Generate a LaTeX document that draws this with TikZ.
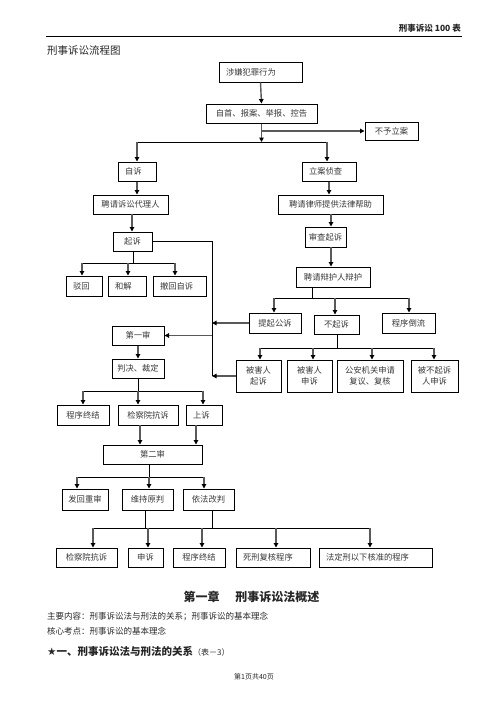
\documentclass[tikz,border=0pt]{standalone}
\usepackage{fontspec}
\setmainfont{Noto Sans CJK SC}
\newfontfamily\symf{DejaVu Sans}
\usetikzlibrary{arrows.meta}
\newcommand\mybox[7][]{%
  \node[box,#1,minimum width={#5pt-#3pt},minimum height={#6pt-#4pt}] (#2) at ({(#3+#5)/2},{(#4+#6)/2}) {#7};}
\newcommand\lbox[7][]{%
  \pgfmathsetlengthmacro\tw{#5pt-#3pt-14pt}%
  \node[box,#1,text width=\tw,align=left,inner xsep=7pt,minimum width={#5pt-#3pt},minimum height={#6pt-#4pt}] (#2) at ({(#3+#5)/2},{(#4+#6)/2}) {#7};}
\begin{document}
\begin{tikzpicture}[x=1pt,y=-1pt,
  box/.style={draw=black, line width=1pt, font=\fontsize{8.3}{11}\selectfont, text=black!78, inner sep=0pt, align=center},
  arr/.style={draw=black!65, line width=1.4pt, -{Triangle[length=4.5pt,width=4.5pt,color=black]}},
  ln/.style={draw=black, line width=0.9pt},
  txt/.style={inner sep=0pt, text=black!85}]
\useasboundingbox (0,0) rectangle (496,702);
% header
\node[txt, anchor=base east, font=\fontsize{8.5}{10}\selectfont\bfseries] (hdr) at (461,31) {刑事诉讼 100 表};
\coordinate (r1) at (46,36); \coordinate (r2) at (462,36);
\draw[line width=0.9pt] (r1) -- (r2);
\node[txt, anchor=base west, font=\fontsize{10.5}{12}\selectfont] (title) at (47,54) {刑事诉讼流程图};
% boxes
\lbox{b1}{219}{62}{302}{82}{涉嫌犯罪行为}
\mybox{b2}{206}{104}{317}{123}{自首、报案、举报、控告}
\mybox{b3}{365}{122}{418}{140}{不予立案}
\lbox{b4}{118}{162}{156}{181}{自诉}
\lbox{b5}{302}{162}{356}{181}{立案侦查}
\mybox{b6}{93}{195}{168}{214}{聘请诉讼代理人}
\mybox{b7}{278}{195}{383}{214}{聘请律师提供法律帮助}
\mybox{b8}{113}{232}{152}{251}{起诉}
\mybox{b9}{305}{227}{346}{247}{审查起诉}
\mybox{b10}{296}{267}{370}{287}{聘请辩护人辩护}
\lbox{b11}{66}{276}{102}{296}{驳回}
\lbox{b12}{108}{276}{146}{296}{和解}
\lbox{b13}{153}{276}{206}{296}{撤回自诉}
\mybox{b14}{249}{313}{301}{333}{提起公诉}
\mybox{b15}{314}{315}{359}{334}{不起诉}
\mybox{b16}{382}{313}{435}{333}{程序倒流}
\mybox{b17}{112}{326}{164}{345}{第一审}
\mybox{b18}{236}{360}{281}{392}{被害人\\起诉}
\mybox{b19}{287}{360}{332}{392}{被害人\\申诉}
\mybox{b20}{337}{360}{403}{392}{公安机关申请\\复议、复核}
\mybox{b21}{411}{360}{458}{392}{被不起诉\\人申诉}
\mybox{b22}{112}{359}{164}{378}{判决、裁定}
\mybox{b23}{57}{405}{109}{425}{程序终结}
\mybox{b24}{118}{405}{178}{425}{检察院抗诉}
\lbox{b25}{186}{405}{222}{425}{上诉}
\mybox{b26}{103}{445}{202}{464}{第二审}
\mybox{b27}{62}{489}{108}{510}{发回重审}
\mybox{b28}{122}{489}{173}{510}{维持原判}
\mybox{b29}{183}{489}{234}{510}{依法改判}
\mybox{b30}{56}{548}{117}{567}{检察院抗诉}
\mybox{b31}{128}{548}{163}{567}{申诉}
\mybox{b32}{173}{548}{225}{567}{程序终结}
\lbox{b33}{236}{548}{310}{567}{死刑复核程序}
\lbox{b34}{319}{548}{432}{567}{法定刑以下核准的程序}
% connectors
\draw[arr] (b1.south) -- (b2.north);
\coordinate (j1l) at (137,142); \coordinate (j1r) at (327,142);
\draw[ln] (j1l) -- (j1r);
\draw[arr] (b2.south) -- (b2.south |- j1l);
\draw[arr] (j1l) -- (j1l |- b4.north);
\draw[arr] (j1r) -- (j1r |- b5.north);
\coordinate (g1) at (261.5,131);
\draw[arr] (g1) -- (b3.west);
\draw[arr] (b4.south) -- (b4.south |- b6.north);
\draw[arr] (b5.south) -- (b5.south |- b7.north);
\coordinate (c6) at (132,214);
\draw[arr] (c6) -- (c6 |- b8.north);
\coordinate (c7) at (331,214);
\draw[arr] (c7) -- (c7 |- b9.north);
\coordinate (c9) at (331,247);
\draw[arr] (c9) -- (c9 |- b10.north);
% 起诉 -> right vertical bus
\coordinate (v1) at (212,241.5); \coordinate (v2) at (212,376);
\draw[ln] (b8.east) -- (v1) -- (v2);
% 起诉 children
\coordinate (j2) at (133,263); \coordinate (j2l) at (82,263); \coordinate (j2m) at (128,263); \coordinate (j2r) at (175,263);
\draw[ln] (b8.south -| j2) -- (j2);
\draw[ln] (j2l) -- (j2r);
\draw[arr] (j2l) -- (j2l |- b11.north);
\draw[arr] (j2m) -- (j2m |- b12.north);
\draw[arr] (j2r) -- (j2r |- b13.north);
% 聘请辩护人辩护 children
\coordinate (j3) at (312,298); \coordinate (j3l) at (274,298); \coordinate (j3m) at (335,298); \coordinate (j3r) at (409,298);
\draw[ln] (b10.south -| j3) -- (j3);
\draw[ln] (j3l) -- (j3r);
\draw[arr] (j3l) -- (j3l |- b14.north);
\draw[arr] (j3m) -- (j3m |- b15.north);
\draw[arr] (j3r) -- (j3r |- b16.north);
\draw[arr] (b14.west) -- (b14.west -| v1);
\draw[arr] (b17.east -| v1) -- (b17.east);
\draw[arr] (b18.west) -- (b18.west -| v1);
% 不起诉 children
\coordinate (j4) at (337,348); \coordinate (j4a) at (260,348); \coordinate (j4b) at (313,348); \coordinate (j4c) at (372,348); \coordinate (j4d) at (434,348);
\draw[ln] (b15.south -| j4) -- (j4);
\draw[ln] (j4a) -- (j4d);
\draw[arr] (j4a) -- (j4a |- b18.north);
\draw[arr] (j4b) -- (j4b |- b19.north);
\draw[arr] (j4c) -- (j4c |- b20.north);
\draw[arr] (j4d) -- (j4d |- b21.north);
% first instance
\draw[arr] (b17.south) -- (b22.north);
\coordinate (j5) at (138,391); \coordinate (j5l) at (83,391); \coordinate (j5r) at (203,391);
\draw[ln] (b22.south) -- (j5);
\draw[ln] (j5l) -- (j5r);
\draw[arr] (j5l) -- (j5l |- b23.north);
\draw[arr] (j5) -- (j5 |- b24.north);
\draw[arr] (j5r) -- (j5r |- b25.north);
\coordinate (c24) at (140,425); \coordinate (c25) at (196,425);
\draw[arr] (c24) -- (c24 |- b26.north);
\draw[arr] (c25) -- (c25 |- b26.north);
% second instance
\coordinate (j6) at (149,477); \coordinate (j6l) at (77,477); \coordinate (j6r) at (204,477);
\draw[ln] (b26.south -| j6) -- (j6);
\draw[ln] (j6l) -- (j6r);
\draw[arr] (j6l) -- (j6l |- b27.north);
\draw[arr] (j6) -- (j6 |- b28.north);
\draw[arr] (j6r) -- (j6r |- b29.north);
\coordinate (k1) at (145,528); \coordinate (k2) at (212,528);
\draw[ln] (b28.south -| k1) -- (k1);
\draw[ln] (b29.south -| k2) -- (k2);
\coordinate (j7a) at (93,528); \coordinate (j7b) at (148,528); \coordinate (j7c) at (202,528); \coordinate (j7d) at (276,528); \coordinate (j7e) at (370,528);
\draw[ln] (j7a) -- (j7e);
\draw[arr] (j7a) -- (j7a |- b30.north);
\draw[arr] (j7b) -- (j7b |- b31.north);
\draw[arr] (j7c) -- (j7c |- b32.north);
\draw[arr] (j7d) -- (j7d |- b33.north);
\draw[arr] (j7e) -- (j7e |- b34.north);
% text below
\node[txt, anchor=base, font=\fontsize{12}{14}\selectfont\bfseries] (ch) at (251.5,601) {第一章\hspace{16pt}刑事诉讼法概述};
\node[txt, anchor=base west, font=\fontsize{8.5}{10}\selectfont] (t1) at (47,619) {主要内容：刑事诉讼法与刑法的关系；刑事诉讼的基本理念};
\node[txt, anchor=base west, font=\fontsize{8.5}{10}\selectfont] (t2) at (47,634) {核心考点：刑事诉讼的基本理念};
\node[txt, anchor=base west, font=\fontsize{10.5}{12}\selectfont\bfseries] (t3) at (47,655) {{\symf ★}一、刑事诉讼法与刑法的关系{\mdseries\fontsize{8}{10}\selectfont （表－3）}};
\node[txt, anchor=base, font=\fontsize{7}{8}\selectfont] (ft) at (254,679) {第1页共40页};
\end{tikzpicture}
\end{document}
